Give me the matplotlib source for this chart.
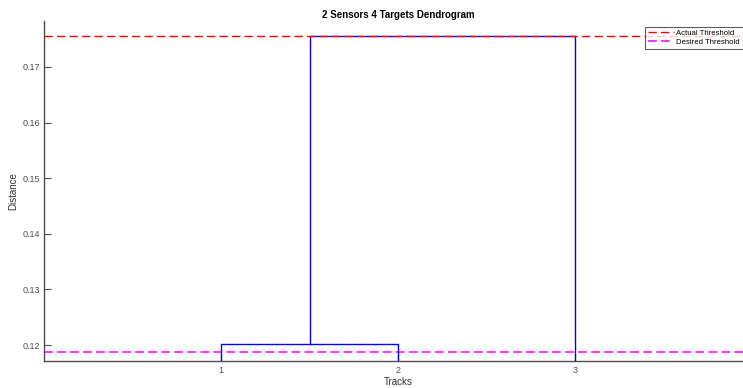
import matplotlib.pyplot as plt

# dendrogram data: leaves 1..3, merges (left, right, height)
leaves = [1, 2, 3]
merge_left = [1.0, 1.5]
merge_right = [2.0, 3.0]
merge_heights = [0.1201, 0.1755]
child_heights_left = [0.0, 0.1201]
child_heights_right = [0.0, 0.0]

actual_threshold = 0.1755
desired_threshold = 0.1188

yticks = [0.12, 0.13, 0.14, 0.15, 0.16, 0.17]

plt.rcParams['font.family'] = ['Liberation Sans', 'DejaVu Sans']

fig = plt.figure(figsize=(7.43, 3.88), dpi=100)
ax = fig.add_axes([44 / 743, 27.3 / 388, 708 / 743, 339.7 / 388])

axis_col = '#4d4d4d'

# dendrogram links
for xl, xr, h, hl, hr in zip(merge_left, merge_right, merge_heights,
                             child_heights_left, child_heights_right):
    ax.plot([xl, xl, xr, xr], [hl, h, h, hr], color='#0000ff', lw=1.0,
            zorder=3, clip_on=True)

ax.axhline(desired_threshold, color='#ff33ff', lw=1.4, ls='--',
           dashes=(4.5, 2.2), zorder=2, label='Desired Threshold')
ax.axhline(actual_threshold, color='#ff0000', lw=1.0, ls='--',
           dashes=(6, 3), zorder=4, label='Actual Threshold')

ax.set_xlim(0, 4)
ax.set_ylim(0.11718, 0.17827)
ax.set_xticks(leaves)
ax.set_xticklabels([str(v) for v in leaves])
ax.set_yticks(yticks)
ax.set_yticklabels([f'{v:.2f}' for v in yticks])

for side in ['top', 'right']:
    ax.spines[side].set_visible(False)
for side in ['left', 'bottom']:
    ax.spines[side].set_color(axis_col)
    ax.spines[side].set_linewidth(1.0)

ax.tick_params(direction='in', length=5, width=0.8, colors=axis_col,
               labelsize=6.5)
ax.tick_params(axis='y', pad=3)
ax.tick_params(axis='x', pad=4)

ax.set_title('2 Sensors 4 Targets Dendrogram', fontsize=7, fontweight='bold',
             pad=2.5)
ax.set_xlabel('Tracks', fontsize=7, color='#333333', labelpad=1)
ax.set_ylabel('Distance', fontsize=7, color='#333333', labelpad=2.5)

handles, labels = ax.get_legend_handles_labels()
leg = fig.legend(handles[::-1], labels[::-1], loc='upper left',
                 bbox_to_anchor=(645 / 743, 1 - 27 / 388), fontsize=5.6,
                 frameon=True, fancybox=False, handlelength=3.4,
                 handletextpad=0.3, borderpad=0.35, labelspacing=0.2,
                 borderaxespad=0, edgecolor='#333333')
leg.get_frame().set_linewidth(0.8)

fig.savefig('out.png', dpi=100)
